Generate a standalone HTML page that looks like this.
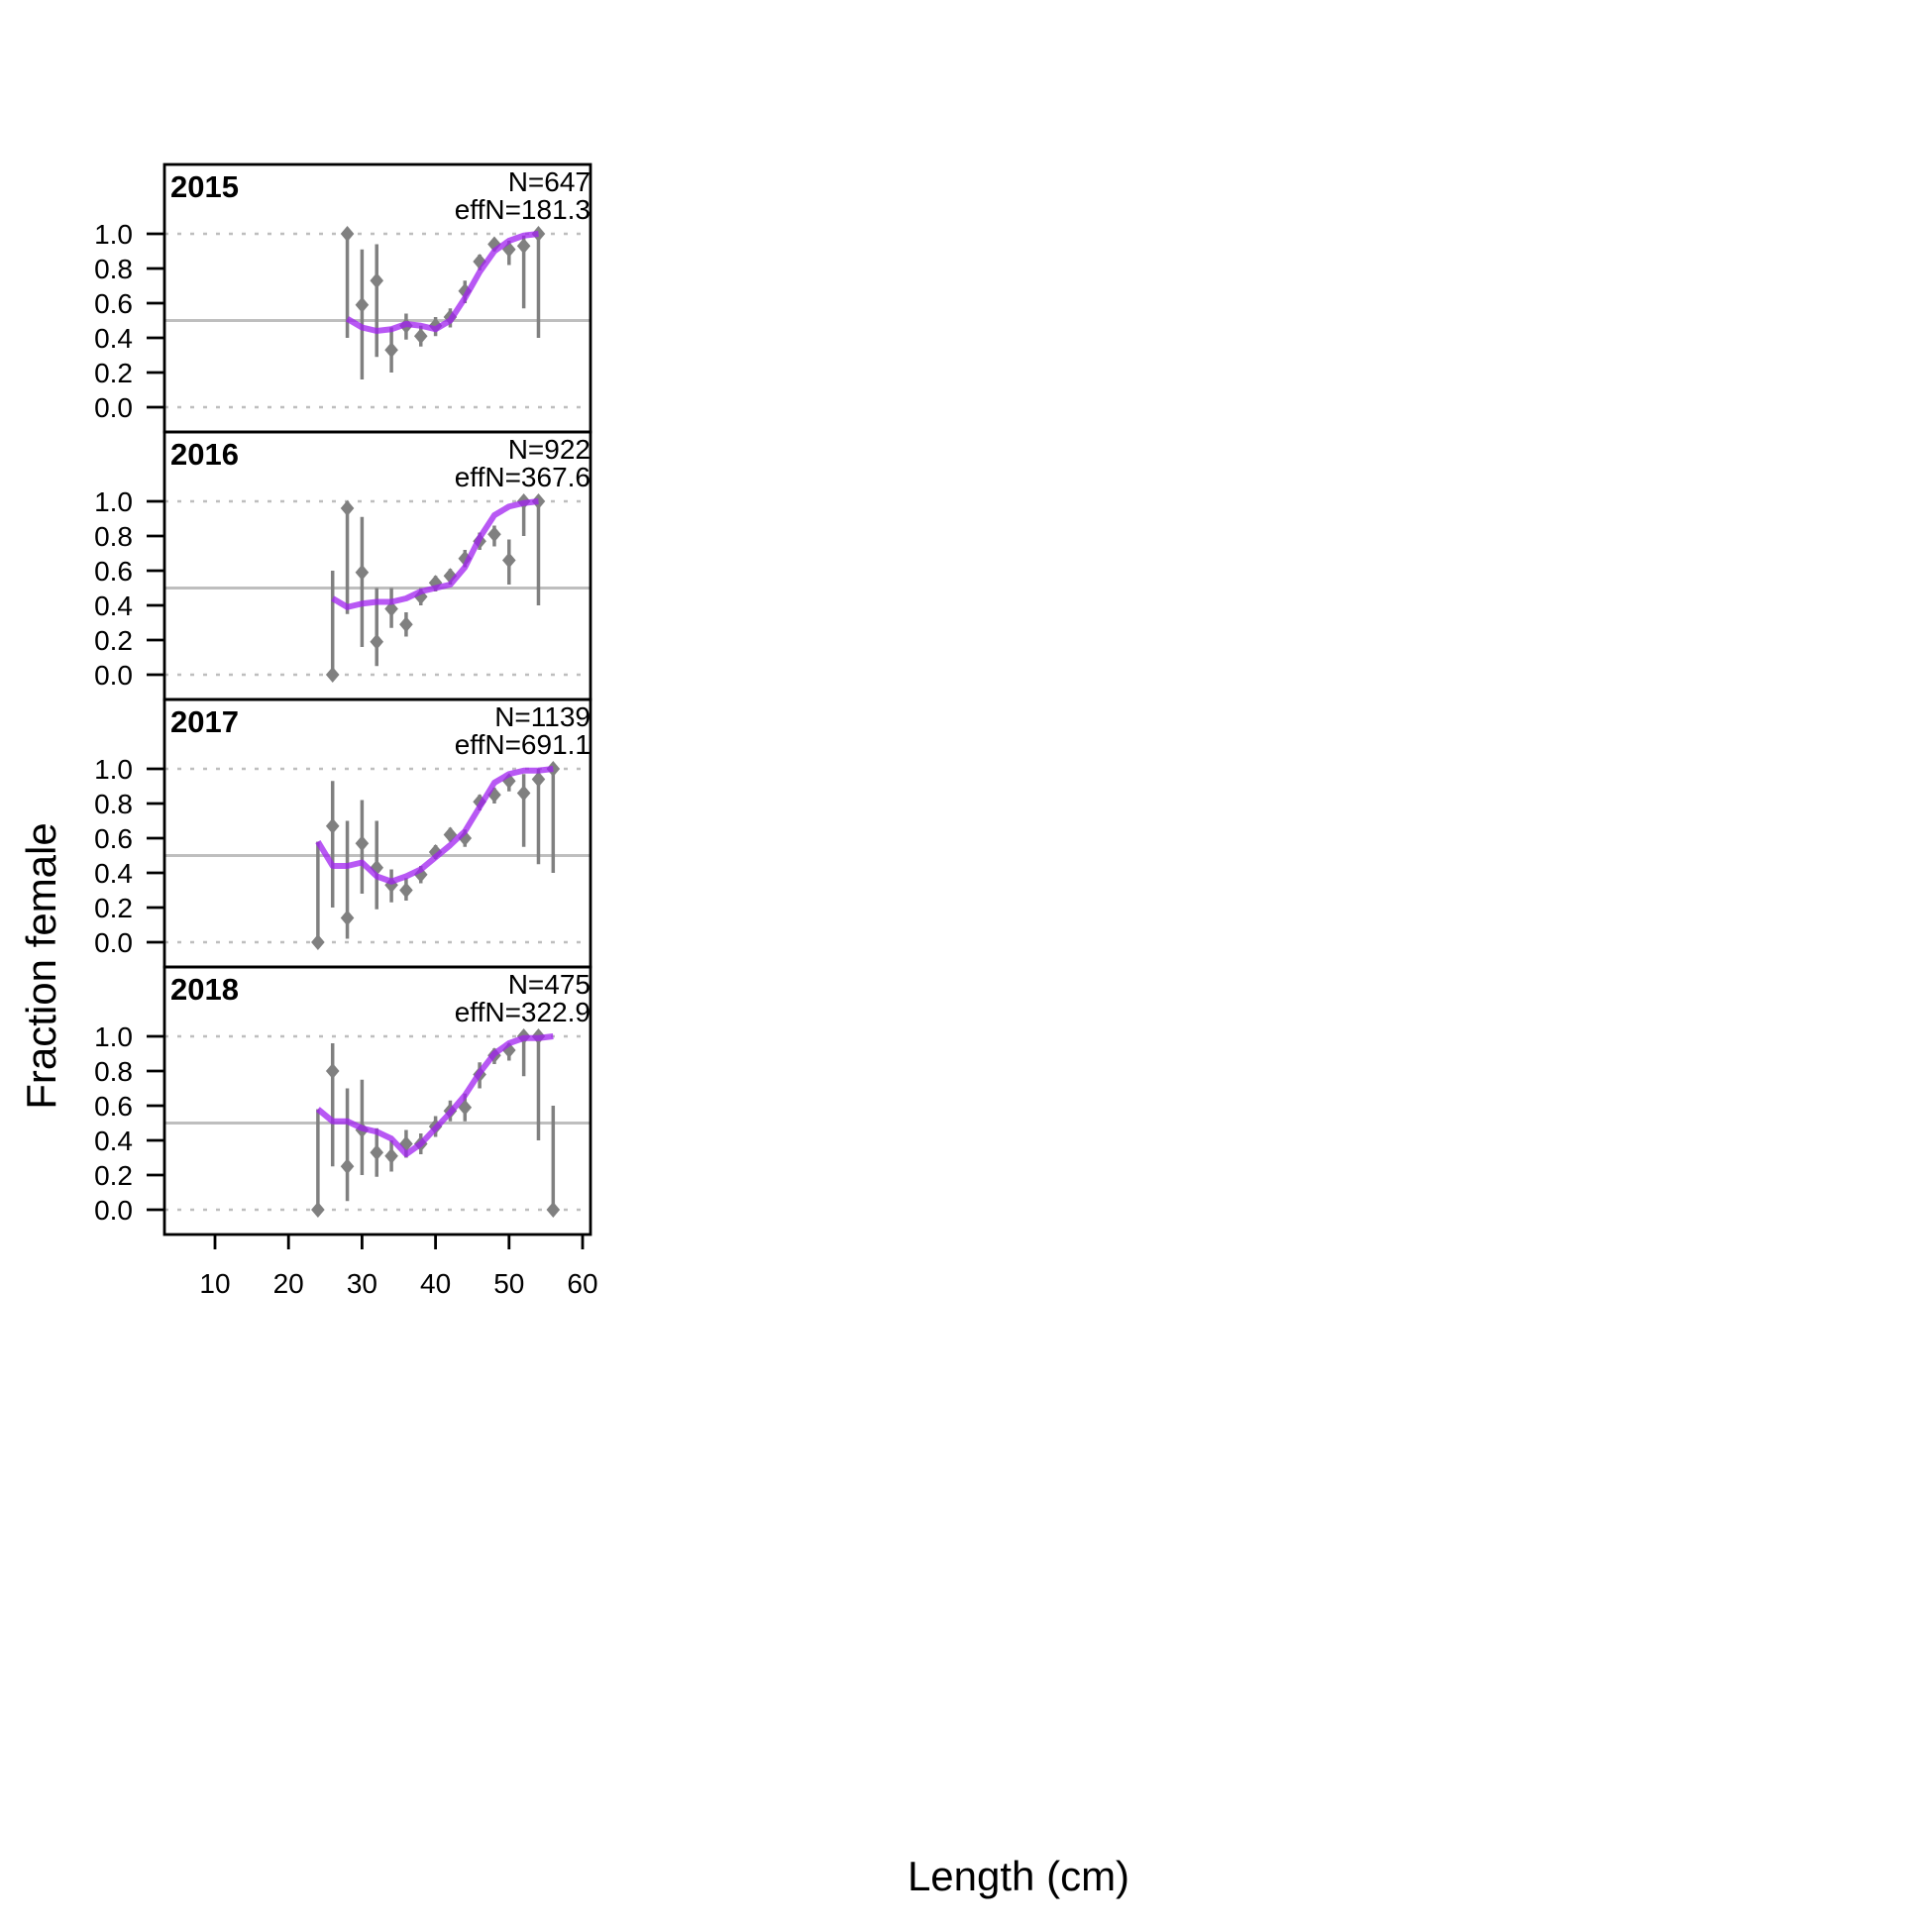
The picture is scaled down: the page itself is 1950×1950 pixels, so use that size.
<!DOCTYPE html>
<html><head><meta charset="utf-8"><style>
html,body{margin:0;padding:0;background:#fff}
svg{display:block;font-family:"Liberation Sans",Arial,sans-serif}
</style></head><body>
<svg id="chart" width="1950" height="1950" viewBox="0 0 1950 1950" xmlns="http://www.w3.org/2000/svg">
<text x="0" y="0" transform="translate(56,975) rotate(-90)" text-anchor="middle" font-size="42">Fraction female</text>
<text x="1028" y="1908" text-anchor="middle" font-size="42">Length (cm)</text>
<g id="panels"></g>
</svg>
<script>
const years = ["2015","2016","2017","2018"];
const nLabels = ["N=647","N=922","N=1139","N=475"];
const effNLabels = ["effN=181.3","effN=367.6","effN=691.1","effN=322.9"];
const xTicks = [10,20,30,40,50,60];
const yTicks = [0,0.2,0.4,0.6,0.8,1.0];
const len2015 = [28,30,32,34,36,38,40,42,44,46,48,50,52,54];
const obs2015 = [1.0,0.59,0.73,0.33,0.47,0.41,0.47,0.52,0.67,0.84,0.94,0.91,0.93,1.0];
const lo2015 = [0.4,0.16,0.29,0.2,0.39,0.35,0.41,0.46,0.6,0.79,0.9,0.82,0.57,0.4];
const hi2015 = [1.0,0.91,0.94,0.46,0.54,0.47,0.52,0.57,0.73,0.88,0.97,0.96,0.99,1.0];
const fit2015 = [0.51,0.46,0.44,0.45,0.48,0.47,0.45,0.5,0.63,0.78,0.9,0.96,0.99,1.0];
const len2016 = [26,28,30,32,34,36,38,40,42,44,46,48,50,52,54];
const obs2016 = [0,0.96,0.59,0.19,0.38,0.29,0.45,0.53,0.57,0.67,0.77,0.81,0.66,1.0,1.0];
const lo2016 = [0,0.35,0.16,0.05,0.27,0.22,0.4,0.48,0.52,0.62,0.72,0.74,0.52,0.8,0.4];
const hi2016 = [0.6,1.0,0.91,0.5,0.5,0.36,0.5,0.57,0.61,0.72,0.82,0.86,0.78,1.0,1.0];
const fit2016 = [0.44,0.39,0.41,0.42,0.42,0.44,0.48,0.5,0.52,0.62,0.79,0.92,0.97,0.99,1.0];
const len2017 = [24,26,28,30,32,34,36,38,40,42,44,46,48,50,52,54,56];
const obs2017 = [0,0.67,0.14,0.57,0.43,0.33,0.3,0.39,0.52,0.62,0.6,0.81,0.85,0.93,0.86,0.94,1.0];
const lo2017 = [0,0.2,0.02,0.28,0.19,0.23,0.24,0.34,0.48,0.58,0.55,0.76,0.8,0.87,0.55,0.45,0.4];
const hi2017 = [0.58,0.93,0.7,0.82,0.7,0.42,0.37,0.44,0.56,0.66,0.65,0.85,0.89,0.96,0.97,1.0,1.0];
const fit2017 = [0.58,0.44,0.44,0.46,0.38,0.35,0.38,0.42,0.49,0.56,0.64,0.78,0.92,0.97,0.99,0.99,1.0];
const len2018 = [24,26,28,30,32,34,36,38,40,42,44,46,48,50,52,54,56];
const obs2018 = [0,0.8,0.25,0.46,0.33,0.31,0.38,0.38,0.48,0.57,0.59,0.78,0.89,0.92,1.0,1.0,0];
const lo2018 = [0,0.25,0.05,0.2,0.19,0.22,0.3,0.32,0.42,0.51,0.51,0.7,0.84,0.86,0.77,0.4,0];
const hi2018 = [0.58,0.96,0.7,0.75,0.47,0.4,0.46,0.44,0.54,0.63,0.67,0.85,0.93,0.96,1.0,1.0,0.6];
const fit2018 = [0.58,0.51,0.51,0.47,0.45,0.41,0.32,0.38,0.47,0.56,0.66,0.79,0.9,0.96,0.99,0.99,1.0];

const lens=[len2015,len2016,len2017,len2018], obs=[obs2015,obs2016,obs2017,obs2018],
      los=[lo2015,lo2016,lo2017,lo2018], his=[hi2015,hi2016,hi2017,hi2018], fits=[fit2015,fit2016,fit2017,fit2018];
const NS="http://www.w3.org/2000/svg";
const L=166,R=596,T0=166,PH=270;
const xs=v=>217+(v-10)*7.42;
const g=document.getElementById('panels');
function mk(tag,attrs,parent){const e=document.createElementNS(NS,tag);for(const k in attrs)e.setAttribute(k,attrs[k]);(parent||g).appendChild(e);return e;}
years.forEach((yr,i)=>{
  const top=T0+i*PH;
  const ys=v=>top+70+(1-v)*175;
  const pg=mk('g',{});
  
  
  [0,1].forEach(v=>{const l=mk('line',{x1:L,x2:R,y1:ys(v),y2:ys(v),stroke:'#bebebe','stroke-width':2.5,'stroke-dasharray':'4,9'},pg);
    
    });
  const h=mk('line',{x1:L,x2:R,y1:ys(0.5),y2:ys(0.5),stroke:'#bebebe','stroke-width':3},pg);
  
  
  lens[i].forEach((x,j)=>{
    const c=mk('line',{x1:xs(x),x2:xs(x),y1:ys(los[i][j]),y2:ys(his[i][j]),stroke:'#808080','stroke-width':3.5},pg);
    
    
    const px=xs(x),py=ys(obs[i][j]),r=8;
    const d=mk('polygon',{points:`${px},${py-r} ${px+r*0.85},${py} ${px},${py+r} ${px-r*0.85},${py}`,fill:'#808080'},pg);
    
    
  });
  const pts=lens[i].map((x,j)=>xs(x)+','+ys(fits[i][j])).join(' ');
  const f=mk('polyline',{points:pts,fill:'none',stroke:'#a020f0','stroke-opacity':0.75,'stroke-width':6,'stroke-linejoin':'round'},pg);
  
  
  const b=mk('rect',{x:L,y:top,width:R-L,height:PH,fill:'none',stroke:'#000','stroke-width':2.8},pg);
  
  
  yTicks.forEach(v=>{
    const t=mk('line',{x1:148,x2:L,y1:ys(v),y2:ys(v),stroke:'#000','stroke-width':2.8},pg);
    
    
    const tx=mk('text',{x:134,y:ys(v)+10,'text-anchor':'end','font-size':28},pg);
    tx.textContent=v.toFixed(1);
    
    
  });
  const yl=mk('text',{x:172,y:top+33,'font-size':31,'font-weight':'bold'},pg);
  yl.textContent=yr;
  
  
  const n1=mk('text',{x:R,y:top+27,'text-anchor':'end','font-size':28},pg);
  n1.textContent=nLabels[i];
  
  
  const n2=mk('text',{x:R,y:top+55,'text-anchor':'end','font-size':28},pg);
  n2.textContent=effNLabels[i];
  
  
});
const bottom=T0+4*PH;
xTicks.forEach(v=>{
  const t=mk('line',{x1:xs(v),x2:xs(v),y1:bottom,y2:bottom+15,stroke:'#000','stroke-width':2.8});
  
  
  const tx=mk('text',{x:xs(v),y:bottom+59,'text-anchor':'middle','font-size':28});
  tx.textContent=v;
  
  
});
</script>
</body></html>
